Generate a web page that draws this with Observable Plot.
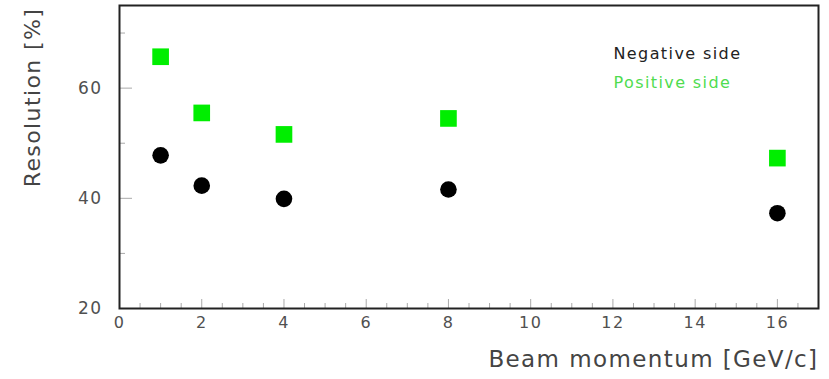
<!DOCTYPE html>
<html>
<head>
<meta charset="utf-8">
<script src="https://cdn.jsdelivr.net/npm/d3@7"></script>
<script src="https://cdn.jsdelivr.net/npm/@observablehq/plot@0.6"></script>
<style>
  html, body { margin: 0; padding: 0; background: #fff; }
  svg { display: block; }
</style>
</head>
<body>
<div id="chart"></div>
<script>
// Beam momentum settings (GeV/c)
const momentum = [1, 2, 4, 8, 16];
// Resolution (%) for each side of the detector
const negativeSide = [47.8, 42.3, 39.9, 41.6, 37.3];
const positiveSide = [65.7, 55.5, 51.6, 54.5, 47.3];

// Axis ticks
const xMajorTicks = [0, 2, 4, 6, 8, 10, 12, 14, 16];
const xMinorTicks = d3.range(0.5, 17, 0.5).filter(v => v % 2 !== 0);
const yMajorTicks = [20, 40, 60];
const yMinorTicks = [30, 50, 70];

const seriesNames = ["Negative side", "Positive side"];
const seriesColors = ["#222222", "#4fdc4f"];

const negData = momentum.map((p, i) => ({p, r: negativeSide[i]}));
const posData = momentum.map((p, i) => ({p, r: positiveSide[i]}));

const font = "'DejaVu Sans', sans-serif";

const chart = Plot.plot({
  width: 829,
  height: 379,
  marginLeft: 119,
  marginRight: 11,
  marginTop: 5,
  marginBottom: 71,
  style: {fontFamily: font, color: "#444", background: "#fff", letterSpacing: "1.4px"},
  x: {domain: [0, 17]},
  y: {domain: [20, 75]},
  marks: [
    // inward tick marks
    Plot.axisX({ticks: xMinorTicks, tickSize: -5, text: null, stroke: "#aaa", label: null}),
    Plot.axisX({ticks: xMajorTicks, tickSize: -9, text: null, stroke: "#aaa", label: null}),
    Plot.axisY({ticks: yMinorTicks, tickSize: -6, text: null, stroke: "#aaa", label: null}),
    Plot.axisY({ticks: yMajorTicks, tickSize: -13, text: null, stroke: "#aaa", label: null}),
    // tick labels
    Plot.axisX({ticks: xMajorTicks, tickSize: 0, tickPadding: 8, fontSize: 16, fill: "#505050", label: null}),
    Plot.axisY({ticks: yMajorTicks, tickSize: 0, tickPadding: 17, fontSize: 17, fill: "#505050", label: null}),
    Plot.frame({stroke: "#222", strokeWidth: 2}),
    // data
    Plot.dot(posData, {x: "p", y: "r", symbol: "square", r: 9.4, fill: "#00ee00", stroke: null}),
    Plot.dot(negData, {x: "p", y: "r", symbol: "circle", r: 8.3, fill: "#000", stroke: null}),
    // legend
    Plot.text([seriesNames[0]], {frameAnchor: "top-right", textAnchor: "start", lineAnchor: "middle", dx: -205, dy: 48, fontSize: 16, fill: seriesColors[0]}),
    Plot.text([seriesNames[1]], {frameAnchor: "top-right", textAnchor: "start", lineAnchor: "middle", dx: -205, dy: 77, fontSize: 16, fill: seriesColors[1]}),
    // axis titles
    Plot.text(["Beam momentum [GeV/c]"], {frameAnchor: "bottom-right", textAnchor: "end", lineAnchor: "middle", dx: 0, dy: 51, fontSize: 23, fill: "#444"}),
    Plot.text(["Resolution [%]"], {frameAnchor: "top-left", textAnchor: "middle", lineAnchor: "middle", rotate: -90, dx: -87, dy: 92, fontSize: 22, fill: "#444"})
  ]
});

document.getElementById("chart").appendChild(chart);
</script>
</body>
</html>
